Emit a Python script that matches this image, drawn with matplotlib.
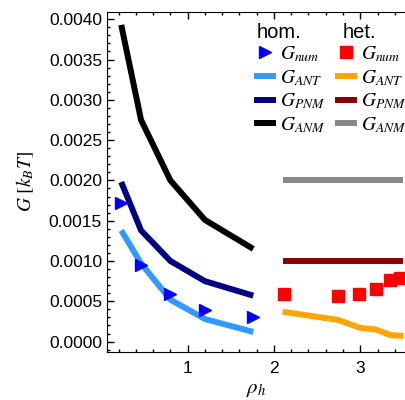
import matplotlib
matplotlib.use("Agg")
import matplotlib.pyplot as plt
from matplotlib.ticker import MultipleLocator

plt.rcParams['font.family'] = ['Liberation Sans', 'DejaVu Sans']
plt.rcParams['mathtext.fontset'] = 'stix'

# homogeneous case
rho_hom = [0.23, 0.46, 0.80, 1.20, 1.76]
G_num_hom = [0.00172, 0.00095, 0.00059, 0.00039, 0.00030]
G_ant_hom = [0.00138, 0.00097, 0.00052, 0.00028, 0.00012]
G_pnm_hom = [0.00198, 0.00138, 0.00100, 0.00075, 0.00057]
G_anm_hom = [0.00393, 0.00275, 0.00200, 0.00151, 0.00115]

# heterogeneous case
rho_het = [2.12, 2.74, 2.99, 3.18, 3.35, 3.46]
G_num_het = [0.00059, 0.00057, 0.00059, 0.00065, 0.00077, 0.00079]
rho_het_line = [2.10, 2.74, 3.00, 3.18, 3.35, 3.50]
G_ant_het = [0.00037, 0.00027, 0.00017, 0.00015, 0.00008, 0.00007]
rho_het_flat = [2.10, 3.50]
G_pnm_het = [0.0010, 0.0010]
G_anm_het = [0.0020, 0.0020]

fig = plt.figure(figsize=(4.06, 4.0), dpi=100)
ax = fig.add_axes([0.2635, 0.121, 0.7365, 0.849])

lw = 4.3
h_num, = ax.plot(rho_hom, G_num_hom, '>', color='#0000ff', ms=9, ls='none', zorder=5)
h_ant, = ax.plot(rho_hom, G_ant_hom, color='#3399ff', lw=lw, solid_capstyle='butt')
h_pnm, = ax.plot(rho_hom, G_pnm_hom, color='#000080', lw=lw, solid_capstyle='butt')
h_anm, = ax.plot(rho_hom, G_anm_hom, color='black', lw=lw, solid_capstyle='butt')

e_num, = ax.plot(rho_het, G_num_het, 's', color='#ff0000', ms=8, ls='none', zorder=5)
e_ant, = ax.plot(rho_het_line, G_ant_het, color='#ffa500', lw=lw, solid_capstyle='butt')
e_pnm, = ax.plot(rho_het_flat, G_pnm_het, color='#8b0000', lw=lw, solid_capstyle='butt')
e_anm, = ax.plot(rho_het_flat, G_anm_het, color='#888888', lw=lw, solid_capstyle='butt')

ax.set_xlim(0.065, 3.53)
ax.set_ylim(-0.000124, 0.00409)
ax.xaxis.set_major_locator(MultipleLocator(1))
ax.xaxis.set_minor_locator(MultipleLocator(0.2))
ax.yaxis.set_major_locator(MultipleLocator(0.0005))
ax.yaxis.set_minor_locator(MultipleLocator(0.0001))
ax.yaxis.set_major_formatter(lambda v, p: f"{v:.4f}")
ax.spines['right'].set_visible(False)
ax.tick_params(which='both', direction='in', top=True, right=False, labelsize=12.5, width=1)
ax.tick_params(which='major', length=5)
ax.tick_params(which='minor', length=2.5)
ax.tick_params(axis='x', pad=7)

ax.set_xlabel(r'$\rho_h$', fontsize=15, labelpad=3)
ax.set_ylabel(r'$G\ [k_BT]$', fontsize=14, labelpad=9)

labels = [r'$G_{num}$', r'$G_{ANT}$', r'$G_{PNM}$', r'$G_{ANM}$']
ax.legend([h_num, h_ant, h_pnm, h_anm, e_num, e_ant, e_pnm, e_anm], labels + labels,
          ncol=2, loc='upper left', bbox_to_anchor=(0.49, 0.905), frameon=False,
          fontsize=14, handlelength=1.15, handletextpad=0.2, columnspacing=0.5,
          labelspacing=0.2, borderpad=0, borderaxespad=0)
ax.text(257, 400 - 32, 'hom.', transform=None, fontsize=14.5, va='center', ha='left')
ax.text(343, 400 - 32, 'het.', transform=None, fontsize=14.5, va='center', ha='left')

fig.savefig('out.png', dpi=100)
